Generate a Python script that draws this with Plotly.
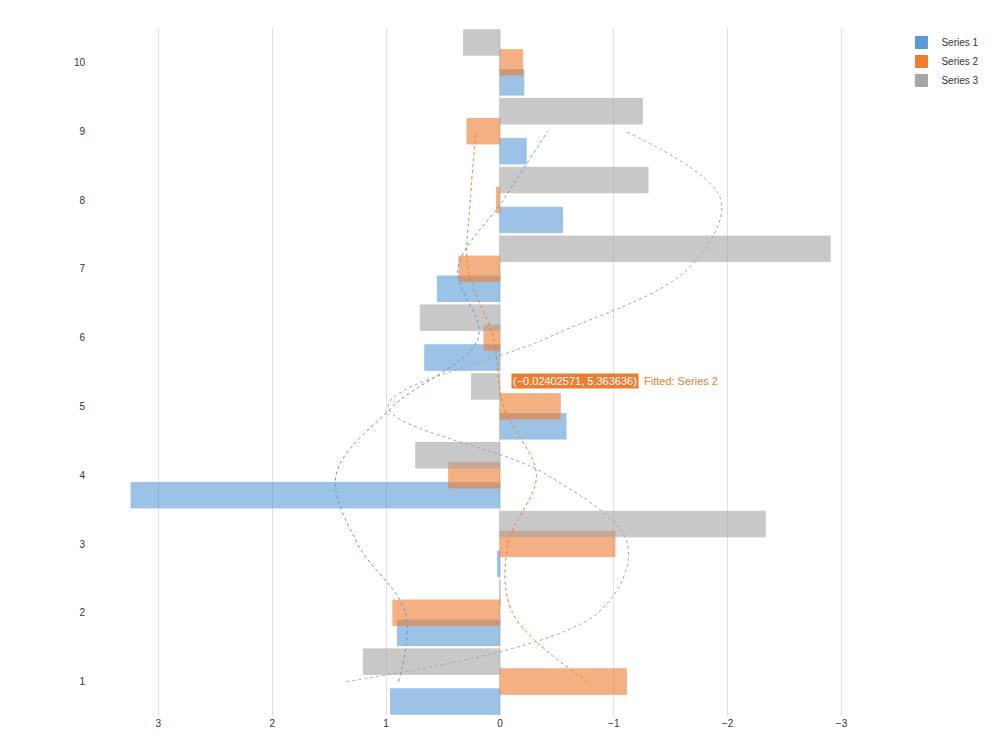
import plotly.graph_objects as go

categories = [1, 2, 3, 4, 5, 6, 7, 8, 9, 10]
series1 = [0.96, 0.90, 0.02, 3.24, -0.58, 0.66, 0.55, -0.55, -0.23, -0.21]
series2 = [-1.11, 0.94, -1.01, 0.45, -0.53, 0.14, 0.36, 0.03, 0.29, -0.20]
series3 = [1.20, 0.0, -2.33, 0.74, 0.25, 0.70, -2.90, -1.30, -1.25, 0.32]

# fitted curves, read at each category from 1 to 9
fit_y = [1, 2, 3, 4, 5, 6, 7, 8, 9]
fit1 = [0.89, 0.83, 1.25, 1.44, 0.94, 0.19, 0.37, -0.03, -0.42]
fit2 = [-0.77, -0.11, -0.07, -0.32, -0.03, 0.06, 0.28, 0.26, 0.21]
fit3 = [1.35, -0.86, -1.12, -0.42, 0.98, -0.42, -1.65, -1.94, -1.10]

colors = ["#5b9bd5", "#ed7d31", "#a5a5a5"]
offsets = [-0.475, -0.185, 0.105]

fig = go.Figure()
for name, vals, col, off in zip(["Series 1", "Series 2", "Series 3"],
                                [series1, series2, series3], colors, offsets):
    fig.add_trace(go.Bar(
        y=categories, x=vals, orientation="h", name=name,
        width=0.37, offset=off,
        marker=dict(color=col, opacity=0.6, line=dict(color=col, width=1)),
    ))

for vals, col in zip([fit1, fit2, fit3], colors):
    fig.add_trace(go.Scatter(
        x=vals, y=fit_y, mode="lines", showlegend=False,
        line=dict(color=col, width=1, dash="dot", shape="spline"),
    ))

fig.add_annotation(
    x=-0.024, y=5.3636, xref="x", yref="y",
    text="(−0.02402571, 5.363636)", showarrow=False,
    xanchor="left", xshift=8, bgcolor="#ed7d31",
    font=dict(color="white", size=11, family="Arial"),
)
fig.add_annotation(
    x=-1.25, y=5.3636, xref="x", yref="y",
    text="Fitted: Series 2", showarrow=False, xanchor="left",
    font=dict(color="#ed7d31", size=11, family="Arial"),
)

fig.update_layout(
    width=992, height=744,
    margin=dict(l=90, r=122, t=20, b=36),
    barmode="overlay",
    plot_bgcolor="white", paper_bgcolor="white",
    font=dict(family="Arial", size=10, color="#333"),
    legend=dict(x=1.03, y=1, xanchor="left", yanchor="top",
                font=dict(size=10)),
    xaxis=dict(range=[3.53, -3.32], tickvals=[3, 2, 1, 0, -1, -2, -3],
               ticktext=["3", "2", "1", "0", "−1", "−2", "−3"],
               showgrid=True, gridcolor="#e0e0e0", zeroline=False),
    yaxis=dict(range=[0.5, 10.5], tickvals=categories, showgrid=False,
               zeroline=False, ticklabelstandoff=12),
    showlegend=True,
)

fig.write_html("out.html")
